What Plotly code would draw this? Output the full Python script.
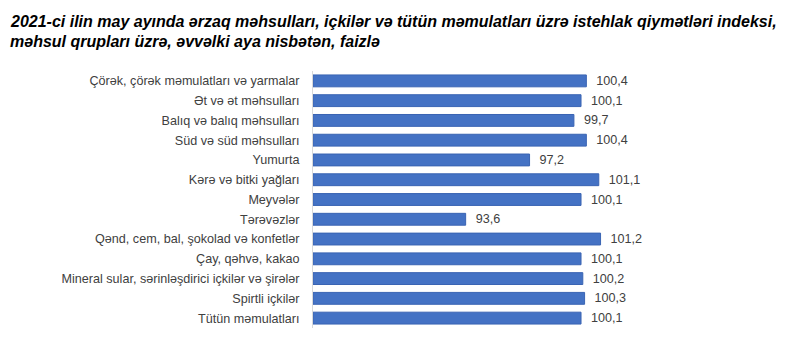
import plotly.graph_objects as go

categories = [
    "Çörək, çörək məmulatları və yarmalar",
    "Ət və ət məhsulları",
    "Balıq və balıq məhsulları",
    "Süd və süd məhsulları",
    "Yumurta",
    "Kərə və bitki yağları",
    "Meyvələr",
    "Tərəvəzlər",
    "Qənd, cem, bal, şokolad və konfetlər",
    "Çay, qəhvə, kakao",
    "Mineral sular, sərinləşdirici içkilər və şirələr",
    "Spirtli içkilər",
    "Tütün məmulatları",
]
values = [100.4, 100.1, 99.7, 100.4, 97.2, 101.1, 100.1, 93.6, 101.2, 100.1, 100.2, 100.3, 100.1]
labels = [f"{v:.1f}".replace(".", ",") for v in values]
axis_start = 85

title_lines = [
    "2021-ci ilin may ayında ərzaq məhsulları, içkilər və tütün məmulatları üzrə istehlak qiymətləri indeksi,",
    "məhsul qrupları üzrə, əvvəlki aya nisbətən, faizlə",
]

fig = go.Figure(go.Bar(
    x=[v - axis_start for v in values], y=categories, orientation="h",
    base=axis_start,
    marker=dict(color="#4472C4", line=dict(color="#3a64b3", width=1)),
    text=labels, textposition="outside", cliponaxis=False,
    constraintext="none",
    texttemplate="  %{text}",
    textfont=dict(family="Liberation Sans, Arial", size=12.6, color="#404040"),
    width=0.6,
    hovertemplate="%{y}: %{text}<extra></extra>",
))

fig.update_layout(
    width=800, height=338,
    margin=dict(l=313, r=132, t=71, b=10),
    paper_bgcolor="white", plot_bgcolor="white",
    showlegend=False,
    font=dict(family="Liberation Sans, Arial", size=12.6, color="#404040"),
    xaxis=dict(range=[85, 105], visible=False, showgrid=False, zeroline=False),
    yaxis=dict(autorange="reversed", showline=True, linecolor="#d9d9d9", linewidth=1,
               ticks="", ticklabelstandoff=10, showgrid=False,
               tickfont=dict(family="Liberation Sans, Arial", size=12.6, color="#404040")),
    annotations=[
        dict(text=f"<b><i>{title_lines[0]}</i></b>", xref="paper", yref="paper",
             x=-305/355, y=1 + (71 - 21) / 257, xanchor="left", yanchor="middle",
             showarrow=False, font=dict(family="Liberation Sans, Arial", size=16, color="#000000")),
        dict(text=f"<b><i>{title_lines[1]}</i></b>", xref="paper", yref="paper",
             x=-305/355, y=1 + (71 - 42) / 257, xanchor="left", yanchor="middle",
             showarrow=False, font=dict(family="Liberation Sans, Arial", size=16, color="#000000")),
    ],
)
fig.write_html("out.html")
